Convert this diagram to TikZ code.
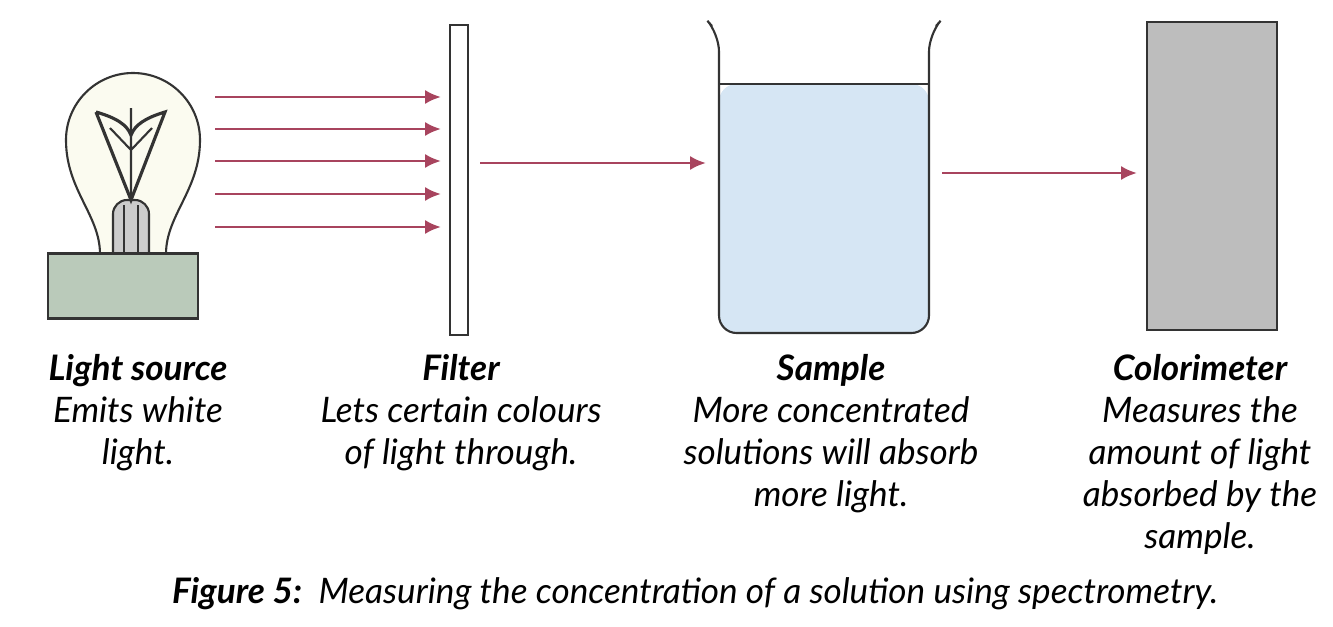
\documentclass[tikz,border=0pt]{standalone}
\usepackage{fontspec}
\setmainfont{Lato}
\usetikzlibrary{arrows.meta}
\definecolor{ray}{HTML}{A8445E}
\definecolor{glass}{HTML}{FBFBF0}
\definecolor{socket}{HTML}{BACABA}
\definecolor{liquid}{HTML}{D6E6F4}
\definecolor{meter}{HTML}{BDBDBD}
\begin{document}
\begin{tikzpicture}[x=0.02cm,y=-0.02cm,
    beam/.style={ray,line width=1.6pt,-{Latex[length=9pt,width=8pt]}},
    part/.style={draw=black!80,line width=1.2pt},
    title/.style={font=\fontsize{20}{24}\selectfont\bfseries\itshape,anchor=base},
    note/.style={font=\fontsize{20}{24}\selectfont\itshape,align=center,anchor=north}
   ]
  \useasboundingbox (0,0) rectangle (1333,626);
  % light bulb
  \draw[part,fill=glass] (100,254) .. controls (100,215) and (66,190) .. (66,140)
     arc[start angle=180,end angle=360,radius=67] .. controls (200,190) and (166,215) .. (166,254) -- cycle;
  \draw[part,fill=black!20,rounded corners=8pt] (113,254) -- (113,200) -- (149,200) -- (149,254);
  \draw[part] (124,254) -- (124,205) (138,254) -- (138,205);
  \draw[part,line width=1.8pt] (96,112) -- (131,200) -- (165,112)
     .. controls (145,118) and (135,125) .. (131,135) .. controls (127,125) and (117,118) .. (96,112);
  \draw[part] (131,108) -- (131,200) (110,128) -- (131,150) -- (152,128);
  \node[part,fill=socket,minimum width=3cm,minimum height=1.3cm] (source) at (123,286) {};
  % filter, beaker, colorimeter
  \node[part,fill=white,minimum width=0.36cm,minimum height=6.2cm,inner sep=0pt] (filter) at (459,180) {};
  \fill[liquid,rounded corners=10pt] (719,84) -- (719,333) -- (929,333) -- (929,84) -- cycle;
  \draw[part,rounded corners=10pt] (712,26) -- (719,34) -- (719,333) -- (929,333) -- (929,34) -- (936,26);
  \draw[part] (719,84) -- (929,84);
  \node[part,fill=meter,minimum width=2.6cm,minimum height=6.16cm,inner sep=0pt] (meter) at (1212,176) {};
  % light rays
  \foreach \y in {97,129,161,194,227}
    \draw[beam] (215,\y) -- (441,\y);
  \coordinate (pass) at (480,163);
  \coordinate (exit) at (942,173);
  \draw[beam] (pass) -- (706,163);
  \draw[beam] (exit) -- (1137,173);
  % labels
  \node[title] (t1) at (138,380) {Light source};
  \node[note] at (138,390) {Emits white\\light.};
  \node[title] (t2) at (461,380) {Filter};
  \node[note] at (461,390) {Lets certain colours\\of light through.};
  \node[title] (t3) at (831,380) {Sample};
  \node[note] at (831,390) {More concentrated\\solutions will absorb\\more light.};
  \node[title] (t4) at (1200,380) {Colorimeter};
  \node[note] at (1200,390) {Measures the\\amount of light\\absorbed by the\\sample.};
  \node[font=\fontsize{20}{24}\selectfont\itshape,anchor=base] (caption) at (695,603)
    {\textbf{Figure 5:}\ \ Measuring the concentration of a solution using spectrometry.};
\end{tikzpicture}
\end{document}
